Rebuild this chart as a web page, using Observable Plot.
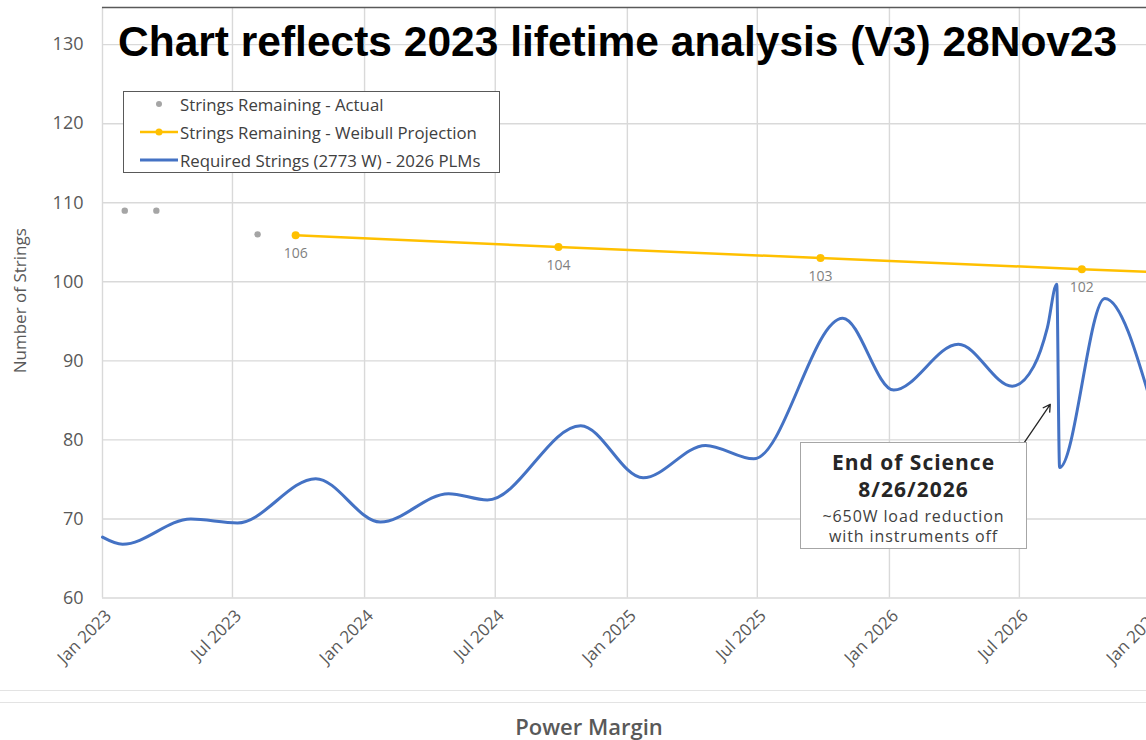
<!DOCTYPE html>
<html>
<head>
<meta charset="utf-8">
<script src="https://cdn.jsdelivr.net/npm/d3@7"></script>
<script src="https://cdn.jsdelivr.net/npm/@observablehq/plot@0.6"></script>
<style>
  html, body { margin: 0; padding: 0; background: #fff; overflow: hidden; }
  #wrap { position: relative; width: 1146px; height: 740px; font-family: "Open Sans", sans-serif; overflow: hidden; }
  #chart { position: absolute; left: 0; top: 0; }
  .title { position: absolute; left: 118px; top: 21px; font: bold 42.5px "Liberation Sans", Arial, sans-serif; line-height: 1; color: #000; white-space: nowrap; }
  .legend { position: absolute; left: 123px; top: 91px; width: 377px; height: 82px; border: 1.5px solid #595959; background: #fff; box-sizing: border-box; }
  .legend .row { position: absolute; left: 0; height: 20px; display: flex; align-items: center; font-size: 16.8px; color: #404040; white-space: nowrap; }
  .legend svg { display: block; margin-left: 16px; margin-right: 2px; }
  .annot { position: absolute; left: 800px; top: 442px; width: 227px; height: 107px; border: 1.5px solid #a6a6a6; background: #fff; box-sizing: border-box; text-align: center; color: #262626; white-space: nowrap; }
  .annot .b { font-weight: bold; font-size: 21px; letter-spacing: 1px; line-height: 27px; }
  .annot .n { font-size: 16px; letter-spacing: 0.9px; line-height: 20px; color: #404040; }
  .annot .n.first { margin-top: 3px; }
  .hline { position: absolute; left: 0; width: 1146px; border-top: 1.5px solid #e3e3e3; }
  .xtitle { position: absolute; left: 439px; width: 300px; top: 711px; text-align: center; font-weight: 600; font-size: 22px; line-height: 30px; color: #595959; }
</style>
</head>
<body>
<div id="wrap"></div>
<script>
// ---- data ----
const titleText = "Chart reflects 2023 lifetime analysis (V3) 28Nov23";
const yAxisLabel = "Number of Strings";
const xAxisLabel = "Power Margin";

const seriesNames = [
  "Strings Remaining - Actual",
  "Strings Remaining - Weibull Projection",
  "Required Strings (2773 W) - 2026 PLMs"
];
const seriesColors = ["#a5a5a5", "#ffc000", "#4472c4"];

const actualDates = ["2023-02-01", "2023-03-17", "2023-08-05"];
const actualValues = [109, 109, 106];

const weibullDates = ["2023-09-27", "2024-09-27", "2025-09-27", "2026-09-26", "2027-09-27"];
const weibullValues = [105.9, 104.4, 103.0, 101.6, 100.2];
const weibullLabels = ["106", "104", "103", "102", ""];

const requiredDates = [
  "2023-01-01", "2023-01-29", "2023-05-04", "2023-07-08", "2023-10-25",
  "2024-01-23", "2024-04-27", "2024-06-20", "2024-10-28", "2025-01-23",
  "2025-04-20", "2025-06-26", "2025-10-28", "2026-01-07", "2026-04-07",
  "2026-06-21", "2026-07-21", "2026-08-09", "2026-08-22", "2026-08-26",
  "2026-10-28", "2027-01-01"
];
const requiredValues = [
  67.7, 66.8, 70.0, 69.5, 75.1,
  69.6, 73.2, 72.4, 81.8, 75.2,
  79.3, 77.6, 95.4, 86.3, 92.1,
  86.8, 89.3, 94.2, 99.7, 76.5,
  97.9, 84.5
];

const yTicks = [60, 70, 80, 90, 100, 110, 120, 130];
const xTickDates = ["2023-01-01", "2023-07-01", "2024-01-01", "2024-07-01", "2025-01-01",
                    "2025-07-01", "2026-01-01", "2026-07-01", "2027-01-01"];
const xDomainDates = ["2023-01-01", "2027-01-01"];
const yDomain = [60, 134.7];

// annotation: arrow pointing at end of science
const annotArrow = [{from: "2026-07-08", fromValue: 79.7, to: "2026-08-13", toValue: 84.5}];
const annotLines = [
  {cls: "b", text: "End of Science"},
  {cls: "b", text: "8/26/2026"},
  {cls: "n first", text: "~650W load reduction"},
  {cls: "n", text: "with instruments off"}
];

// ---- build ----
const parse = d3.utcParse("%Y-%m-%d");
const actual = actualDates.map((d, i) => ({date: parse(d), value: actualValues[i]}));
const weibull = weibullDates.map((d, i) => ({date: parse(d), value: weibullValues[i], label: weibullLabels[i]}));
const required = requiredDates.map((d, i) => ({date: parse(d), value: requiredValues[i]}));
const xTicks = xTickDates.map(parse);
const arrows = annotArrow.map(a => ({x1: parse(a.from), y1: a.fromValue, x2: parse(a.to), y2: a.toValue}));

const W = 1146, H = 740;
const chart = Plot.plot({
  width: W, height: H,
  marginLeft: 102, marginTop: 7, marginBottom: 142.5, marginRight: 0,
  style: {fontFamily: "'Open Sans', sans-serif", background: "transparent", overflow: "hidden"},
  x: {type: "utc", domain: xDomainDates.map(parse), range: [102, 1151]},
  y: {domain: yDomain, range: [597.5, 7]},
  marks: [
    Plot.gridX(xTicks, {stroke: "#d9d9d9", strokeOpacity: 1, strokeWidth: 1.4}),
    Plot.gridY(yTicks, {stroke: "#d9d9d9", strokeOpacity: 1, strokeWidth: 1.4}),
    Plot.ruleY([yDomain[1]], {stroke: "#595959", strokeWidth: 1.6}),
    Plot.axisY(yTicks, {tickSize: 0, tickPadding: 19, fontSize: 18, fill: "#595959", label: null}),
    Plot.axisX(xTicks, {tickSize: 0, tickRotate: -45, tickPadding: 15, dx: 6, fontSize: 17, fill: "#595959",
                        tickFormat: d3.utcFormat("%b %Y"), label: null}),
    Plot.text([yAxisLabel], {frameAnchor: "left", textAnchor: "middle", rotate: -90, dx: -82, dy: -2, fontSize: 17, fill: "#595959"}),
    Plot.line(weibull, {x: "date", y: "value", stroke: seriesColors[1], strokeWidth: 2.5}),
    Plot.dot(weibull, {x: "date", y: "value", r: 4, fill: seriesColors[1], stroke: "none"}),
    Plot.text(weibull.filter(d => d.label), {x: "date", y: "value", text: "label", dy: 18, fontSize: 14, fill: "#7f7f7f"}),
    Plot.dot(actual, {x: "date", y: "value", r: 3.2, fill: seriesColors[0], stroke: "none"}),
    Plot.line(required, {x: "date", y: "value", stroke: seriesColors[2], strokeWidth: 3, curve: "monotone-x"}),
    Plot.arrow(arrows, {x1: "x1", y1: "y1", x2: "x2", y2: "y2", stroke: "#262626", strokeWidth: 1.3, headLength: 9})
  ]
});
chart.id = "chart";

const wrap = document.getElementById("wrap");
wrap.appendChild(chart);

// title
const t = document.createElement("div");
t.className = "title"; t.textContent = titleText;
wrap.appendChild(t);

// legend
const lg = document.createElement("div");
lg.className = "legend";
const rowTops = [2, 30, 58];
seriesNames.forEach((name, i) => {
  const row = document.createElement("div");
  row.className = "row";
  row.style.top = rowTops[i] + "px";
  const s = d3.create("svg").attr("width", 38).attr("height", 10);
  if (i === 0) {
    s.append("circle").attr("cx", 19).attr("cy", 5).attr("r", 3).attr("fill", seriesColors[0]);
  } else {
    s.append("line").attr("x1", 0).attr("x2", 38).attr("y1", 5).attr("y2", 5)
      .attr("stroke", seriesColors[i]).attr("stroke-width", i === 1 ? 2.5 : 3);
    if (i === 1) s.append("circle").attr("cx", 19).attr("cy", 5).attr("r", 3.5).attr("fill", seriesColors[1]);
  }
  row.appendChild(s.node());
  const sp = document.createElement("span");
  sp.textContent = name;
  row.appendChild(sp);
  lg.appendChild(row);
});
wrap.appendChild(lg);

// annotation box
const an = document.createElement("div");
an.className = "annot";
const inner = document.createElement("div");
inner.style.paddingTop = "6px";
annotLines.forEach(l => {
  const d = document.createElement("div");
  d.className = l.cls; d.textContent = l.text;
  inner.appendChild(d);
});
an.appendChild(inner);
wrap.appendChild(an);

// bottom separator lines and x title
[690, 702].forEach(y => {
  const h = document.createElement("div");
  h.className = "hline"; h.style.top = y + "px";
  wrap.appendChild(h);
});
const xt = document.createElement("div");
xt.className = "xtitle"; xt.textContent = xAxisLabel;
wrap.appendChild(xt);
</script>
</body>
</html>
